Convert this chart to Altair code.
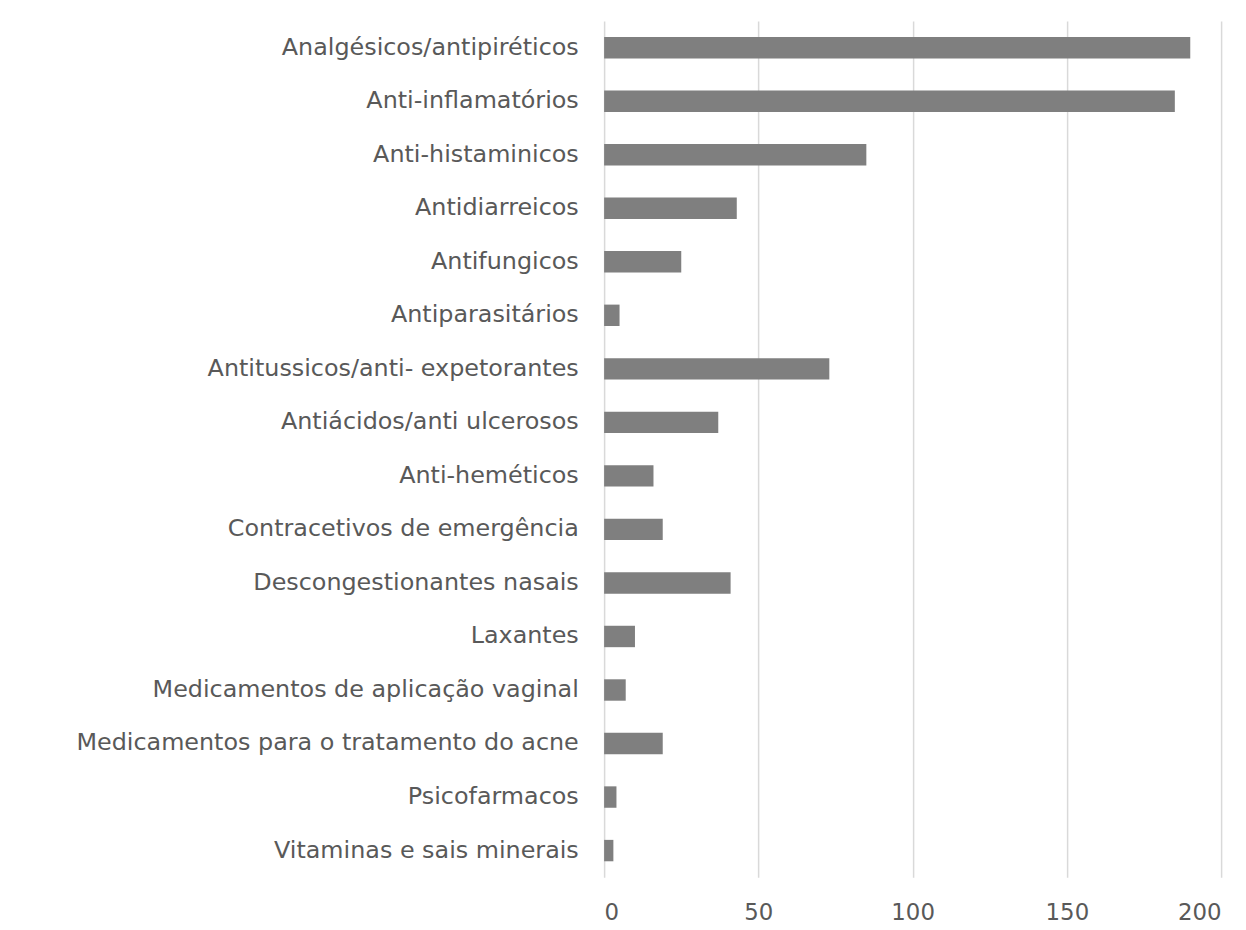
import altair as alt
import pandas as pd

categories = [
    "Analgésicos/antipiréticos",
    "Anti-inflamatórios",
    "Anti-histaminicos",
    "Antidiarreicos",
    "Antifungicos",
    "Antiparasitários",
    "Antitussicos/anti- expetorantes",
    "Antiácidos/anti ulcerosos",
    "Anti-heméticos",
    "Contracetivos de emergência",
    "Descongestionantes nasais",
    "Laxantes",
    "Medicamentos de aplicação vaginal",
    "Medicamentos para o tratamento do acne",
    "Psicofarmacos",
    "Vitaminas e sais minerais",
]
values = [190, 185, 85, 43, 25, 5, 73, 37, 16, 19, 41, 10, 7, 19, 4, 3]
x_ticks = [0, 50, 100, 150, 200]

df = pd.DataFrame({"categoria": categories, "valor": values})

FONT = "DejaVu Sans"

chart = (
    alt.Chart(df)
    .mark_bar(color="#7f7f7f")
    .encode(
        x=alt.X(
            "valor:Q",
            scale=alt.Scale(domain=[0, 200], nice=False),
            axis=alt.Axis(
                title=None,
                values=x_ticks,
                grid=True,
                gridColor="#d9d9d9",
                gridWidth=1.5,
                domain=False,
                ticks=False,
                labelPadding=24,
                labelFontSize=23,
                labelColor="#595959",
                labelFont=FONT,
            ),
        ),
        y=alt.Y(
            "categoria:N",
            sort=categories,
            scale=alt.Scale(paddingInner=0.6, paddingOuter=0.3),
            axis=alt.Axis(
                title=None,
                domain=False,
                ticks=False,
                grid=False,
                labelPadding=26,
                labelFontSize=24,
                labelColor="#595959",
                labelFont=FONT,
                labelLimit=700,
            ),
        ),
    )
    .properties(
        width=621,
        height=862,
        autosize=alt.AutoSizeParams(type="none"),
        padding={"left": 600, "top": 10, "right": 17, "bottom": 50},
    )
    .configure_view(stroke=None)
)

chart.save("out.html", embed_options={"renderer": "svg", "actions": False})
